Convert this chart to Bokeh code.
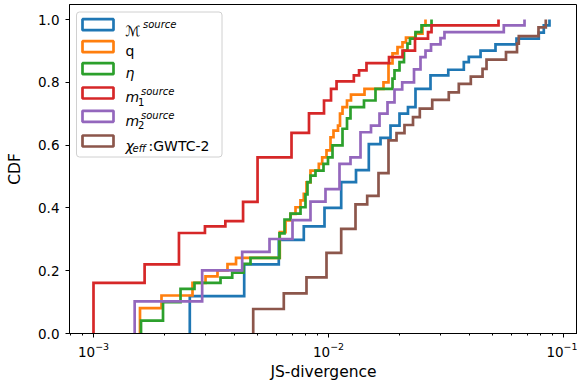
from bokeh.plotting import figure
from bokeh.models import (Range1d, FixedTicker, LogTickFormatter, PrintfTickFormatter,
                          BoxAnnotation, Label)
from bokeh.embed import file_html
from bokeh.resources import INLINE

# ---------------- data ----------------
colors = ["#1f77b4", "#ff7f0e", "#2ca02c", "#d62728", "#9467bd", "#8c564b"]

mchirp_js = [2.569e-3, 4.378e-3, 6.144e-3, 7.850e-3, 9.616e-3, 1.1325e-2, 1.3093e-2,
             1.4843e-2, 1.6647e-2, 1.8360e-2, 2.0052e-2, 2.1787e-2, 2.3454e-2, 2.7167e-2,
             3.2336e-2, 3.7651e-2, 3.9544e-2, 4.4360e-2, 5.136e-2, 6.310e-2, 7.850e-2,
             8.244e-2, 8.717e-2]
mchirp_cdf = [0.119, 0.220, 0.298, 0.341, 0.400, 0.482, 0.520, 0.603, 0.623, 0.662, 0.700,
              0.721, 0.779, 0.822, 0.840, 0.864, 0.881, 0.901, 0.921, 0.939, 0.958, 0.981, 1.0]

q_js = [1.577e-3, 1.947e-3, 2.638e-3, 2.997e-3, 3.370e-3, 3.717e-3, 4.041e-3, 6.206e-3,
        6.562e-3, 6.892e-3, 7.238e-3, 7.601e-3, 7.850e-3, 8.060e-3, 8.382e-3, 9.096e-3,
        9.401e-3, 9.806e-3, 1.0198e-2, 1.0502e-2, 1.0976e-2, 1.1193e-2, 1.1471e-2,
        1.1988e-2, 1.2466e-2, 1.4229e-2, 1.7140e-2, 1.8003e-2, 1.8723e-2, 1.9664e-2,
        2.065e-2, 2.1365e-2, 2.3454e-2, 2.512e-2, 2.587e-2]
q_cdf = [0.081, 0.121, 0.161, 0.182, 0.201, 0.221, 0.241, 0.323, 0.360, 0.381, 0.402, 0.424,
         0.445, 0.481, 0.519, 0.540, 0.561, 0.583, 0.625, 0.646, 0.662, 0.700, 0.721, 0.742,
         0.761, 0.779, 0.800, 0.860, 0.892, 0.912, 0.927, 0.942, 0.955, 0.981, 1.0]

eta_js = [1.593e-3, 1.976e-3, 2.346e-3, 2.690e-3, 3.471e-3, 3.893e-3, 4.348e-3, 4.657e-3,
          6.187e-3, 6.498e-3, 6.892e-3, 7.601e-3, 7.982e-3, 8.140e-3, 8.382e-3, 8.803e-3,
          9.522e-3, 9.951e-3, 1.0400e-2, 1.1471e-2, 1.1988e-2, 1.2405e-2, 1.4159e-2,
          1.5849e-2, 1.8723e-2, 1.9093e-2, 2.0052e-2, 2.0950e-2, 2.1680e-2, 2.2218e-2,
          2.3454e-2, 2.4876e-2, 2.744e-2]
eta_cdf = [0.041, 0.100, 0.142, 0.161, 0.178, 0.194, 0.222, 0.241, 0.319, 0.363, 0.382, 0.402,
           0.443, 0.482, 0.503, 0.519, 0.540, 0.561, 0.599, 0.652, 0.685, 0.721, 0.742, 0.779,
           0.812, 0.838, 0.864, 0.901, 0.923, 0.939, 0.960, 0.981, 1.0]

m1_js = [1.00e-3, 1.65e-3, 2.31e-3, 2.98e-3, 3.64e-3, 4.33e-3, 4.99e-3, 6.96e-3, 8.26e-3,
         9.57e-3, 1.025e-2, 1.082e-2, 1.282e-2, 1.349e-2, 1.451e-2, 1.809e-2, 2.065e-2,
         2.334e-2, 2.651e-2, 2.744e-2, 5.29e-2]
m1_cdf = [0.161, 0.220, 0.320, 0.341, 0.358, 0.419, 0.561, 0.639, 0.701, 0.742, 0.779, 0.803,
          0.822, 0.838, 0.861, 0.880, 0.901, 0.939, 0.960, 0.981, 1.0]

m2_js = [1.497e-3, 2.900e-3, 4.293e-3, 5.610e-3, 7.028e-3, 8.382e-3, 9.710e-3, 1.1138e-2,
         1.2405e-2, 1.3683e-2, 1.5166e-2, 1.6484e-2, 1.7827e-2, 1.9093e-2, 2.0590e-2,
         2.3114e-2, 2.4633e-2, 2.587e-2, 2.7305e-2, 2.9966e-2, 3.1154e-2, 5.571e-2, 6.825e-2]
m2_cdf = [0.102, 0.201, 0.260, 0.301, 0.361, 0.420, 0.460, 0.540, 0.561, 0.641, 0.662, 0.700,
          0.736, 0.777, 0.800, 0.841, 0.880, 0.901, 0.921, 0.941, 0.960, 0.981, 1.0]

chieff_js = [4.782e-3, 6.453e-3, 8.060e-3, 9.806e-3, 1.1325e-2, 1.3029e-2, 1.4611e-2,
             1.6323e-2, 1.8003e-2, 1.9472e-2, 2.1053e-2, 2.2887e-2, 2.4465e-2, 2.7631e-2,
             3.2496e-2, 3.5849e-2, 4.0325e-2, 4.5238e-2, 4.7035e-2, 5.692e-2, 6.341e-2,
             6.453e-2, 7.827e-2, 8.407e-2]
chieff_cdf = [0.078, 0.128, 0.179, 0.257, 0.333, 0.411, 0.438, 0.511, 0.615, 0.638, 0.664,
              0.689, 0.716, 0.744, 0.768, 0.795, 0.818, 0.843, 0.872, 0.896, 0.923, 0.947,
              0.975, 1.0]

series = [(mchirp_js, mchirp_cdf), (q_js, q_cdf), (eta_js, eta_cdf),
          (m1_js, m1_cdf), (m2_js, m2_cdf), (chieff_js, chieff_cdf)]

x_major_ticks = [1e-3, 1e-2, 1e-1]
y_ticks = [0.0, 0.2, 0.4, 0.6, 0.8, 1.0]

# ---------------- layout helpers (page pixel -> data space) ----------------
def lx(px):
    return 10 ** (-3.0 + (px - 93.0) / 235.0)

def ly(py):
    return (333.0 - py) / 314.0

p = figure(frame_width=508, frame_height=329, x_axis_type="log",
           x_range=Range1d(lx(69), lx(577)), y_range=Range1d(0, ly(4)),
           output_backend="svg", toolbar_location=None,
           min_border_left=69, min_border_right=0, min_border_top=4, min_border_bottom=53)

p.xgrid.visible = False
p.ygrid.visible = False
p.outline_line_color = "black"
p.outline_line_width = 1
p.outline_line_alpha = 1.0
p.background_fill_color = "white"
p.border_fill_color = "white"


def steps(xs, ys):
    sx, sy = [], []
    prev = 0.0
    for x, y in zip(xs, ys):
        sx.extend([x, x])
        sy.extend([prev, y])
        prev = y
    return sx, sy

for (xs, ys), c in zip(series, colors):
    sx, sy = steps(xs, ys)
    p.line(sx, sy, line_color=c, line_width=2.7, line_join="miter")

# axes
minor = [m * 10.0 ** e for e in (-4, -3, -2) for m in range(2, 10)]
p.xaxis.ticker = FixedTicker(ticks=x_major_ticks, minor_ticks=minor)
p.xaxis.formatter = LogTickFormatter()
p.yaxis.ticker = FixedTicker(ticks=y_ticks, minor_ticks=[])
p.yaxis.formatter = PrintfTickFormatter(format="%.1f")
p.xaxis.axis_label = "JS-divergence"
p.yaxis.axis_label = "CDF"

for ax in (p.xaxis[0], p.yaxis[0]):
    ax.axis_line_color = "black"
    ax.major_tick_line_color = "black"
    ax.minor_tick_line_color = "black"
    ax.major_tick_out = 4
    ax.major_tick_in = 0
    ax.minor_tick_out = 2
    ax.minor_tick_in = 0
    ax.major_label_text_font = "DejaVu Sans"
    ax.major_label_text_font_size = "13.5px"
    ax.major_label_text_color = "black"
    ax.axis_label_text_font = "DejaVu Sans"
    ax.axis_label_text_font_size = "15.5px"
    ax.axis_label_text_font_style = "normal"
    ax.axis_label_text_color = "black"
p.yaxis.minor_tick_line_color = None
p.xaxis.major_label_standoff = 4
p.xaxis.axis_label_standoff = 3
p.yaxis.major_label_standoff = 6
p.yaxis.axis_label_standoff = 11

# ---------------- legend (drawn by hand to allow math-like labels) ----------------
p.add_layout(BoxAnnotation(left=lx(76), right=lx(221.5), top=ly(11.5), bottom=ly(156.5),
                           fill_color="white", fill_alpha=0.8, line_color="#d0d0d0",
                           line_alpha=1.0, line_width=1, border_radius=3))
row_centers = [24.2, 46.2, 68.2, 92.5, 115.8, 140.5]
for cy, c in zip(row_centers, colors):
    p.add_layout(BoxAnnotation(left=lx(82), right=lx(113), top=ly(cy - 5.5), bottom=ly(cy + 5.5),
                               fill_alpha=0, line_color=c, line_alpha=1.0, line_width=2.7))

pieces = [
    ("\u2133", 125, 30, 14, "normal"), ("source", 142.5, 23.5, 10, "italic"),
    ("q", 125, 50.5, 14, "normal"),
    ("\u03b7", 125, 72, 14, "italic"),
    ("m", 125, 96.5, 14, "italic"), ("1", 137.5, 101, 10, "normal"),
    ("source", 140.5, 91, 10, "italic"),
    ("m", 125, 120, 14, "italic"), ("2", 137.5, 124.5, 10, "normal"),
    ("source", 140.5, 114.5, 10, "italic"),
    ("\u03c7", 125, 145.5, 14, "italic"), ("eff", 132, 148, 10, "italic"),
    (":GWTC-2", 148, 145.5, 14, "normal"),
]
for txt, px, py, size, style in pieces:
    p.add_layout(Label(x=lx(px), y=ly(py), text=txt, text_font="DejaVu Sans",
                       text_font_size=f"{size}px", text_font_style=style,
                       text_baseline="alphabetic", text_align="left", text_color="black"))

open("out.html", "w").write(file_html(p, INLINE))
